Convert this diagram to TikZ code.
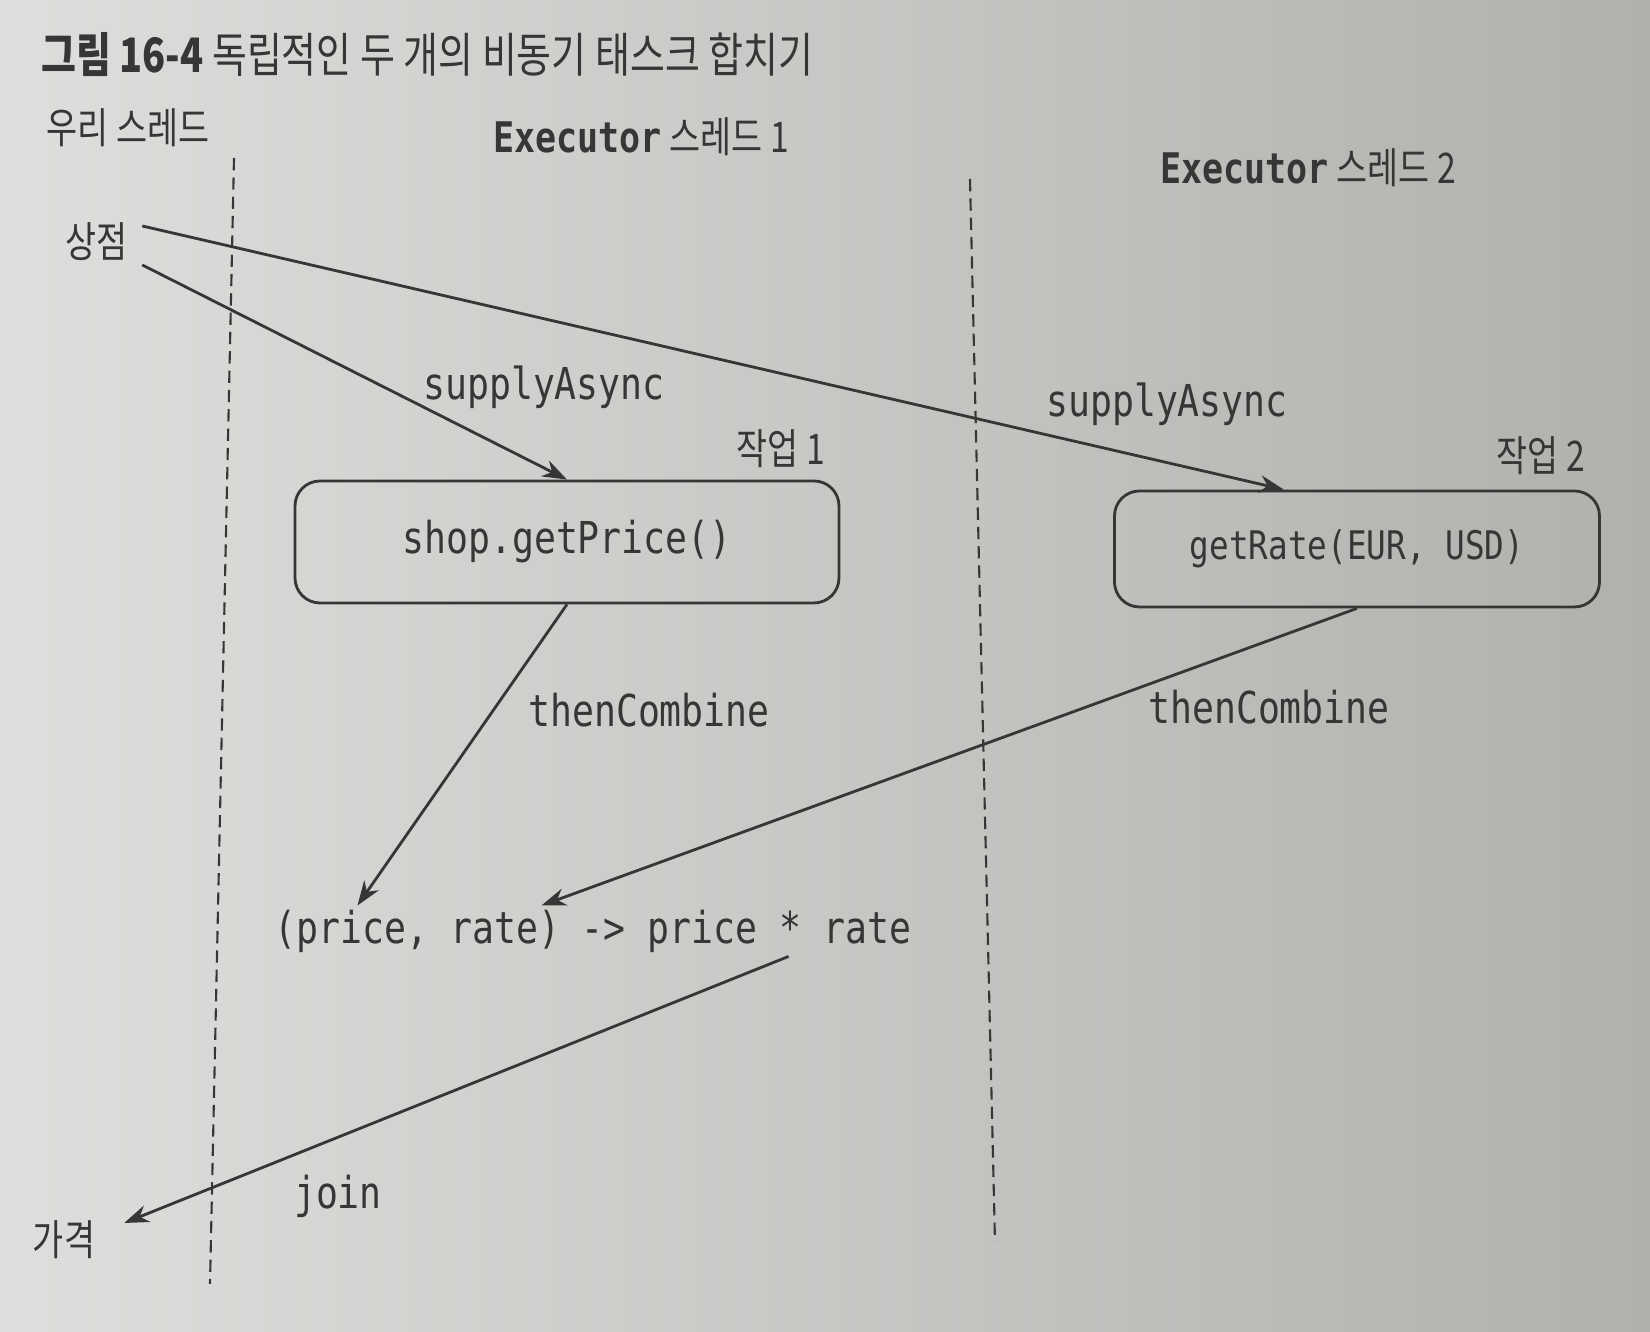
\documentclass[tikz,border=0pt]{standalone}
\usepackage{fontspec}
\usepackage{tikz}
\usetikzlibrary{arrows.meta, positioning, calc}
\newfontfamily\krfont{Noto Sans CJK KR}[FakeStretch=0.8]
\newfontfamily\codefont{DejaVu Sans Mono}[FakeStretch=0.83]
\definecolor{InkGray}{HTML}{363636}
\definecolor{PaperLeft}{HTML}{DEDEDC}
\definecolor{PaperRight}{HTML}{B0B0AD}

\tikzset{
  krlabel/.style={text=InkGray, font=\krfont\fontsize{12}{14}\selectfont, inner sep=1pt},
  codelabel/.style={text=InkGray, font=\codefont\fontsize{12.5}{15}\selectfont, inner sep=1pt},
  taskbox/.style={codelabel, draw=InkGray, line width=0.8pt, rounded corners=2.5mm,
    minimum width=5.44cm, minimum height=1.22cm},
  callarrow/.style={draw=InkGray, line width=0.8pt, -{Stealth[length=7pt,width=5pt]}},
  threadline/.style={draw=InkGray, line width=0.6pt, dash pattern=on 3.5pt off 2pt},
}

\begin{document}
\begin{tikzpicture}

    % Paper
    \shade[left color=PaperLeft, right color=PaperRight] (0,0) rectangle (16.5,13.32);
    \useasboundingbox (0,0) rectangle (16.5,13.32);

    % === Title ===
    \node[krlabel, anchor=west, font=\krfont\fontsize{13.5}{16}\selectfont] (title) at (0.37,12.77)
        {\textbf{그림 16-4} 독립적인 두 개의 비동기 태스크 합치기};

    % === Thread headings ===
    \node[krlabel] (ourthread) at (1.28,12.04) {우리 스레드};
    \node[krlabel] (exec1) at (6.41,11.95) {{\codefont\bfseries Executor} 스레드 1};
    \node[krlabel] (exec2) at (13.08,11.64) {{\codefont\bfseries Executor} 스레드 2};

    % Thread boundaries
    \coordinate (lane1top) at (2.34,11.74);
    \coordinate (lane1bot) at (2.10,0.48);
    \coordinate (lane2top) at (9.70,11.53);
    \coordinate (lane2bot) at (9.95,0.90);
    \draw[threadline] (lane1top) -- (lane1bot);
    \draw[threadline] (lane2top) -- (lane2bot);

    % === Tasks ===
    \node[krlabel] (shop) at (0.97,10.90) {상점};
    \node[taskbox] (price) at (5.67,7.90) {shop.getPrice()};
    \node[taskbox, minimum width=4.85cm, minimum height=1.16cm, font=\codefont\fontsize{11.2}{14}\selectfont]
        (rate) at (13.57,7.83) {getRate(EUR, USD)};
    \node[codelabel] (combine) at (5.93,4.01) {(price, rate) -> price * rate};
    \node[krlabel] (result) at (0.64,0.92) {가격};

    % Labels
    \node[krlabel] (task1) at (7.81,8.83) {작업 1};
    \node[krlabel] (task2) at (15.41,8.76) {작업 2};
    \node[codelabel] (supply1) at (5.44,9.45) {supplyAsync};
    \node[codelabel] (supply2) at (11.67,9.28) {supplyAsync};
    \node[codelabel] (then1) at (6.49,6.22) {thenCombine};
    \node[codelabel] (then2) at (12.69,6.25) {thenCombine};
    \node[codelabel] (join) at (3.38,1.36) {join};

    % === Calls ===
    \draw[callarrow] ($(shop.east)+(0.1,-0.23)$) -- (price.north);
    \draw[callarrow] ($(shop.east)+(0.1,0.16)$) -- ($(rate.north west)!0.35!(rate.north east)$);
    \draw[callarrow] (price.south) -- ($(combine.north west)+(0.87,0)$);
    \draw[callarrow] (rate.south) -- ($(combine.north west)+(2.71,0)$);
    \draw[callarrow] ($(combine.south east)+(-1.27,0)$) -- ($(result.east)+(0.25,0.17)$);

\end{tikzpicture}
\end{document}
